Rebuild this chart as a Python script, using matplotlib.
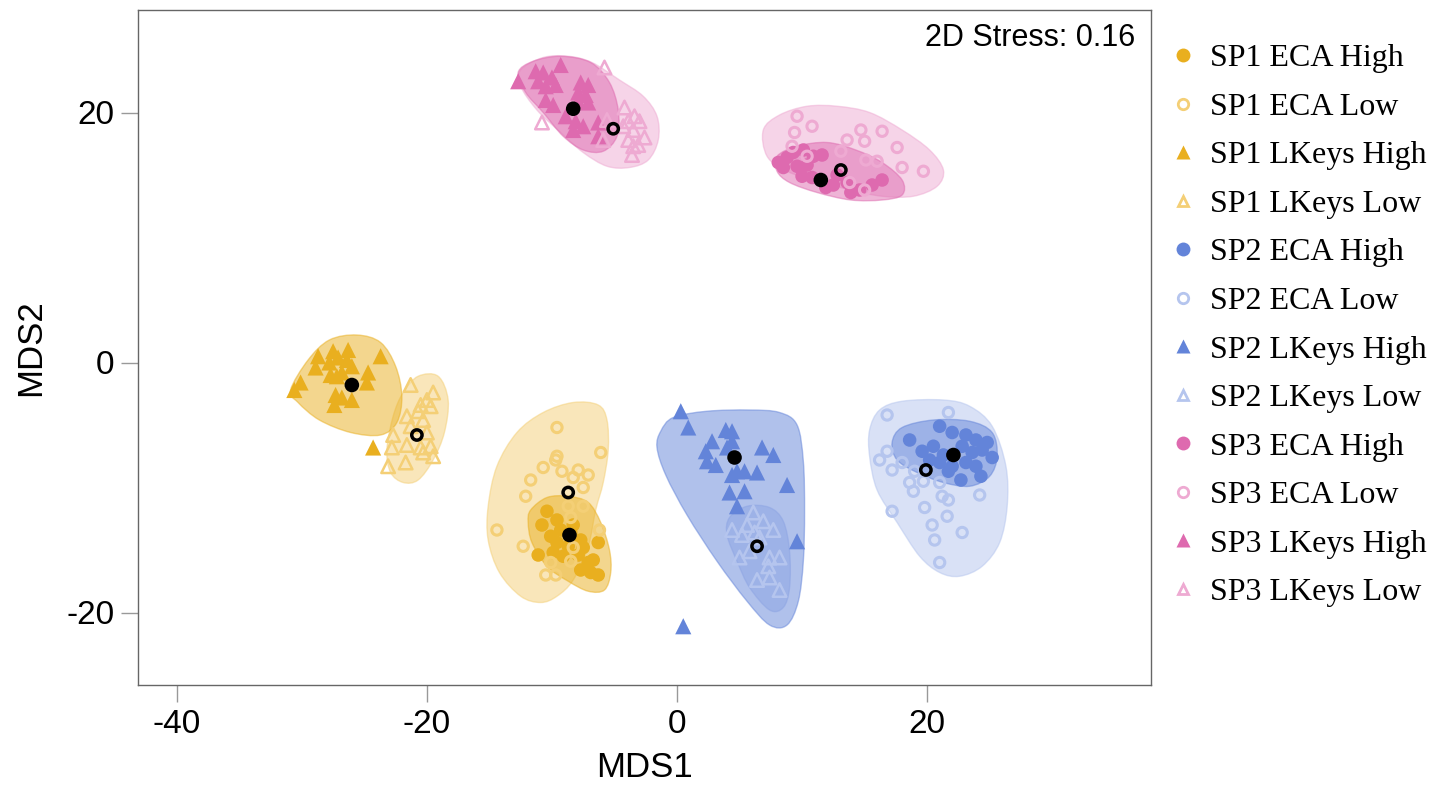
import numpy as np
import matplotlib.pyplot as plt
from matplotlib.path import Path
from matplotlib.patches import PathPatch
from matplotlib.lines import Line2D

plt.rcParams['axes.unicode_minus'] = False

# Couleurs par site (High = foncé, Low = clair)
GOLD, GOLD_LT = '#E9AF1F', '#F4CF76'
BLUE, BLUE_LT = '#6384D9', '#B5C5EE'
PINK, PINK_LT = '#DE6AAF', '#EEAAD2'

# --- Scores NMDS (MDS1, MDS2) par groupe ---
sp1_eca_high_x = [-10.4, -10.8, -9.6, -10.1, -9.3, -8.3, -9.6, -8.7, -7.7, -6.3, -11.1,
                  -9.9, -9.1, -7.9, -7.1, -6.7, -7.7, -6.9, -6.3, -7.5, -8.5]
sp1_eca_high_y = [-11.9, -13.0, -12.6, -13.9, -13.4, -13.0, -14.4, -14.7, -14.2, -14.4, -15.4,
                  -15.2, -15.5, -15.4, -16.0, -15.8, -16.6, -16.8, -17.0, -14.8, -13.6]
sp1_eca_low_x = [-9.6, -6.1, -9.6, -9.7, -10.7, -9.2, -7.9, -7.1, -8.3, -11.7, -7.5, -12.1,
                 -7.5, -8.7, -8.5, -14.4, -6.2, -12.3, -10.1, -8.5, -10.5, -9.7, -8.3]
sp1_eca_low_y = [-5.2, -7.2, -7.5, -7.8, -8.4, -8.7, -8.6, -9.0, -9.2, -9.4, -10.0, -10.7,
                 -11.5, -11.5, -12.4, -13.4, -13.4, -14.7, -16.0, -15.9, -17.0, -17.0, -14.8]
sp1_lk_high_x = [-30.6, -30.1, -28.7, -28.9, -27.5, -27.8, -27.1, -26.3, -26.4, -26.0, -27.7,
                 -27.2, -24.7, -24.8, -23.7, -27.3, -26.8, -26.0, -27.4, -24.3, -26.8]
sp1_lk_high_y = [-2.2, -1.6, 0.5, -0.4, 0.9, 0.0, 0.4, 1.0, 0.2, -0.3, -1.0,
                 -1.1, -0.8, -1.6, 0.5, -2.6, -2.8, -3.0, -3.4, -6.8, -0.8]
sp1_lk_low_x = [-21.3, -19.5, -20.0, -20.5, -19.7, -20.7, -21.6, -20.3, -21.3, -22.7, -20.0,
                -21.6, -22.8, -20.5, -19.7, -19.5, -20.3, -21.7, -23.1]
sp1_lk_low_y = [-1.8, -2.4, -3.0, -3.4, -3.5, -3.9, -4.3, -4.6, -5.1, -5.8, -5.6,
                -6.6, -6.8, -6.8, -6.7, -7.5, -7.2, -8.0, -8.3]

sp2_eca_high_x = [18.6, 21.0, 22.0, 23.1, 23.9, 24.8, 19.6, 20.5, 21.3, 22.8, 23.6,
                  24.4, 25.2, 21.0, 22.0, 23.1, 23.9, 21.7, 22.7, 24.3, 20.2]
sp2_eca_high_y = [-6.2, -5.1, -5.6, -5.8, -6.2, -6.4, -7.1, -6.7, -7.4, -6.7, -7.2,
                  -7.0, -7.6, -8.0, -8.3, -8.0, -8.3, -8.7, -9.4, -9.1, -7.8]
sp2_eca_low_x = [16.8, 21.7, 16.8, 16.2, 17.2, 18.0, 19.0, 18.6, 18.9, 19.7, 21.0,
                 21.2, 21.7, 24.2, 17.2, 19.8, 21.6, 20.4, 22.8, 20.6, 21.0]
sp2_eca_low_y = [-4.2, -4.0, -7.1, -7.8, -8.6, -8.0, -8.7, -9.6, -10.3, -9.5, -9.6,
                 -10.7, -11.0, -10.6, -11.9, -11.6, -12.3, -13.0, -13.6, -14.2, -16.0]
sp2_lk_high_x = [0.3, 0.9, 2.8, 3.9, 4.4, 2.3, 2.4, 3.1, 4.0, 4.4, 6.8,
                 7.7, 4.8, 5.4, 6.4, 4.4, 4.2, 5.4, 4.8, 8.8, 9.6, 0.5]
sp2_lk_high_y = [-3.9, -5.2, -6.3, -5.4, -5.5, -7.1, -7.9, -8.2, -6.8, -6.3, -6.8,
                 -7.4, -8.7, -8.7, -8.8, -9.0, -10.4, -10.3, -11.5, -9.8, -14.3, -21.1]
sp2_lk_low_x = [6.1, 6.9, 5.6, 4.4, 7.7, 6.2, 5.2, 6.6, 5.0, 7.4, 8.2, 7.3, 6.4, 7.4, 8.2, 5.8]
sp2_lk_low_y = [-12.0, -12.7, -13.0, -13.4, -13.4, -13.6, -13.8, -14.0, -15.6, -15.6,
                -15.6, -16.3, -17.4, -17.2, -18.2, -15.1]

sp3_eca_high_x = [8.1, 8.8, 9.3, 10.1, 10.9, 11.6, 8.5, 9.6, 10.4, 10.0, 10.8,
                  11.9, 12.5, 13.6, 14.6, 15.6, 16.4, 13.9, 12.8]
sp3_eca_high_y = [16.0, 16.4, 16.8, 17.0, 16.5, 16.6, 15.6, 15.7, 15.8, 14.9, 14.8,
                  14.0, 14.2, 14.4, 13.8, 14.2, 14.6, 13.6, 15.0]
sp3_eca_low_x = [9.6, 10.8, 9.4, 14.7, 16.4, 13.6, 15.0, 17.6, 9.2, 10.4, 13.1,
                 15.1, 16.0, 18.0, 19.7, 15.0, 13.8]
sp3_eca_low_y = [19.7, 18.9, 18.4, 18.6, 18.5, 17.8, 17.7, 17.2, 17.3, 16.5, 16.9,
                 16.2, 16.1, 15.6, 15.3, 13.8, 14.4]
sp3_lk_high_x = [-12.7, -11.3, -10.7, -9.3, -11.1, -10.0, -9.7, -10.5, -7.7, -7.1, -7.9,
                 -7.3, -10.5, -9.9, -7.9, -7.1, -8.9, -8.1, -7.5, -6.3, -8.3, -6.3]
sp3_lk_high_y = [22.5, 23.3, 23.2, 23.8, 22.5, 22.8, 22.2, 22.1, 22.4, 22.2, 21.6,
                 21.4, 21.0, 20.6, 20.9, 20.8, 19.7, 19.3, 18.9, 19.2, 18.6, 18.1]
sp3_lk_low_x = [-5.8, -10.8, -4.2, -3.4, -3.9, -3.0, -4.3, -3.5, -2.6, -3.9, -3.5,
                -3.6, -3.1, -5.6, -5.9]
sp3_lk_low_y = [23.6, 19.2, 20.4, 19.7, 19.3, 19.3, 18.9, 18.6, 18.0, 17.8, 17.3,
                16.6, 17.4, 19.4, 17.8]

# --- Centroïdes (MDS1, MDS2) ---
centroids = {
    'SP1 ECA High': (-8.6, -13.8), 'SP1 ECA Low': (-8.7, -10.4),
    'SP1 LKeys High': (-26.0, -1.8), 'SP1 LKeys Low': (-20.8, -5.8),
    'SP2 ECA High': (22.1, -7.4), 'SP2 ECA Low': (19.9, -8.6),
    'SP2 LKeys High': (4.6, -7.6), 'SP2 LKeys Low': (6.4, -14.7),
    'SP3 ECA High': (11.5, 14.6), 'SP3 ECA Low': (13.1, 15.4),
    'SP3 LKeys High': (-8.3, 20.3), 'SP3 LKeys Low': (-5.1, 18.7),
}

# --- Contours lissés des enveloppes (sommets de contrôle) ---
hull_sp1_eca_low = [(-8.3, -3.2), (-6.3, -3.4), (-5.6, -4.6), (-5.5, -7.0), (-5.9, -9.6),
                    (-6.5, -11.8), (-7.1, -14.7), (-8.3, -17.4), (-9.6, -18.7), (-10.9, -19.2),
                    (-12.5, -18.7), (-14.2, -16.8), (-15.1, -14.2), (-15.1, -11.5),
                    (-14.4, -8.3), (-12.8, -5.6), (-10.7, -4.0)]
hull_sp1_eca_high = [(-11.7, -11.8), (-10.4, -10.8), (-8.7, -10.7), (-7.1, -11.2), (-6.1, -12.8),
                     (-5.4, -15.0), (-5.3, -16.8), (-5.8, -18.2), (-7.1, -18.3), (-8.7, -17.5),
                     (-10.4, -16.3), (-11.6, -14.4), (-11.9, -12.8)]
hull_sp1_lk_high = [(-30.9, -2.2), (-29.5, 0.2), (-27.8, 1.8), (-25.6, 2.2), (-23.7, 1.6),
                    (-22.5, -0.3), (-22.0, -2.7), (-22.4, -4.8), (-23.7, -5.8), (-26.1, -5.6),
                    (-28.6, -4.6), (-30.3, -3.2)]
hull_sp1_lk_low = [(-20.7, -1.1), (-19.1, -1.1), (-18.3, -3.0), (-18.6, -5.6), (-19.5, -7.8),
                   (-20.7, -9.4), (-21.9, -9.6), (-22.9, -8.8), (-23.2, -7.0), (-22.7, -4.3),
                   (-21.9, -2.4)]
hull_sp2_eca_low = [(15.4, -5.4), (16.2, -3.8), (18.0, -3.1), (21.3, -3.0), (23.4, -3.5),
                    (25.2, -5.1), (26.3, -8.3), (26.4, -11.5), (25.8, -14.4), (24.4, -16.3),
                    (22.6, -17.1), (21.0, -16.8), (19.4, -15.5), (17.6, -12.8), (16.0, -10.2),
                    (15.4, -7.5)]
hull_sp2_eca_high = [(17.2, -6.4), (18.0, -5.2), (20.5, -4.6), (23.4, -4.7), (25.2, -5.6),
                     (25.6, -7.5), (25.0, -9.1), (23.4, -9.9), (21.3, -9.6), (19.2, -8.8),
                     (17.6, -7.8)]
hull_sp2_lk_high = [(-1.3, -5.5), (-0.3, -4.4), (2.4, -3.9), (5.8, -3.8), (8.2, -4.0),
                    (9.6, -5.0), (10.1, -7.9), (10.2, -11.9), (10.1, -15.9), (9.7, -19.1),
                    (8.8, -21.0), (7.4, -21.0), (5.6, -19.1), (3.2, -15.9), (0.8, -12.2),
                    (-0.9, -9.0), (-1.6, -6.8)]
hull_sp2_lk_low = [(4.2, -12.4), (5.6, -11.5), (7.4, -11.6), (8.5, -12.7), (9.0, -15.1),
                   (9.0, -18.0), (8.5, -19.6), (7.4, -19.8), (5.8, -18.0), (4.8, -15.9),
                   (4.0, -13.8)]
hull_sp3_eca_low = [(6.9, 18.6), (8.2, 19.8), (10.4, 20.5), (12.8, 20.5), (15.4, 20.0),
                    (18.0, 18.6), (20.2, 17.0), (21.3, 15.4), (20.8, 14.1), (18.9, 13.3),
                    (16.4, 13.3), (13.9, 13.8), (11.2, 14.5), (8.8, 15.3), (7.2, 16.5)]
hull_sp3_eca_high = [(8.0, 16.5), (9.6, 17.3), (12.0, 17.6), (14.3, 17.0), (16.4, 16.0),
                     (18.0, 14.6), (18.0, 13.4), (16.4, 13.0), (13.9, 13.0), (11.2, 13.6),
                     (9.0, 14.4), (8.0, 15.3)]
hull_sp3_lk_low = [(-12.5, 23.4), (-10.7, 24.4), (-8.7, 24.5), (-6.8, 24.0), (-4.6, 22.6),
                   (-2.7, 21.3), (-1.6, 19.7), (-1.5, 17.8), (-2.3, 16.2), (-3.8, 15.6),
                   (-5.6, 15.7), (-7.5, 16.8), (-9.3, 18.4), (-11.2, 20.2), (-12.5, 22.1)]
hull_sp3_lk_high = [(-12.7, 23.2), (-11.5, 24.1), (-9.3, 24.5), (-6.9, 24.0), (-5.4, 22.4),
                    (-4.7, 20.2), (-4.8, 18.1), (-5.9, 16.9), (-7.5, 17.0), (-9.1, 18.1),
                    (-10.7, 20.0), (-12.1, 21.6)]

# (label, x, y, couleur, marqueur, plein, enveloppe)
groups = [
    ('SP1 ECA High', sp1_eca_high_x, sp1_eca_high_y, GOLD, 'o', True, hull_sp1_eca_high),
    ('SP1 ECA Low', sp1_eca_low_x, sp1_eca_low_y, GOLD_LT, 'o', False, hull_sp1_eca_low),
    ('SP1 LKeys High', sp1_lk_high_x, sp1_lk_high_y, GOLD, '^', True, hull_sp1_lk_high),
    ('SP1 LKeys Low', sp1_lk_low_x, sp1_lk_low_y, GOLD_LT, '^', False, hull_sp1_lk_low),
    ('SP2 ECA High', sp2_eca_high_x, sp2_eca_high_y, BLUE, 'o', True, hull_sp2_eca_high),
    ('SP2 ECA Low', sp2_eca_low_x, sp2_eca_low_y, BLUE_LT, 'o', False, hull_sp2_eca_low),
    ('SP2 LKeys High', sp2_lk_high_x, sp2_lk_high_y, BLUE, '^', True, hull_sp2_lk_high),
    ('SP2 LKeys Low', sp2_lk_low_x, sp2_lk_low_y, BLUE_LT, '^', False, hull_sp2_lk_low),
    ('SP3 ECA High', sp3_eca_high_x, sp3_eca_high_y, PINK, 'o', True, hull_sp3_eca_high),
    ('SP3 ECA Low', sp3_eca_low_x, sp3_eca_low_y, PINK_LT, 'o', False, hull_sp3_eca_low),
    ('SP3 LKeys High', sp3_lk_high_x, sp3_lk_high_y, PINK, '^', True, hull_sp3_lk_high),
    ('SP3 LKeys Low', sp3_lk_low_x, sp3_lk_low_y, PINK_LT, '^', False, hull_sp3_lk_low),
]

stress = 0.16


def smooth_closed_path(vertices):
    """Contour fermé lissé (Catmull-Rom converti en Bézier cubiques)."""
    pts = np.asarray(vertices, dtype=float)
    n = len(pts)
    verts = [pts[0]]
    codes = [Path.MOVETO]
    for i in range(n):
        p0, p1, p2, p3 = pts[i - 1], pts[i], pts[(i + 1) % n], pts[(i + 2) % n]
        verts += [p1 + (p2 - p0) / 6.0, p2 - (p3 - p1) / 6.0, p2]
        codes += [Path.CURVE4] * 3
    verts.append(pts[0])
    codes.append(Path.CLOSEPOLY)
    return Path(verts, codes)


fig = plt.figure(figsize=(14.44, 7.89), dpi=100)
ax = fig.add_axes([138 / 1444, 1 - 685 / 789, (1151 - 138) / 1444, (685 - 10) / 789])

# Enveloppes : d'abord les groupes Low, puis les High par-dessus
for filled_pass in (False, True):
    for label, x, y, color, marker, filled, hull in groups:
        if filled != filled_pass:
            continue
        patch = PathPatch(smooth_closed_path(hull), facecolor=color, alpha=0.5,
                          edgecolor=color, linewidth=1.0, zorder=1)
        ax.add_patch(patch)

# Points
for label, x, y, color, marker, filled, hull in groups:
    if marker == 'o':
        if filled:
            ax.scatter(x, y, s=95, marker='o', color=color, edgecolors='none', zorder=3)
        else:
            ax.scatter(x, y, s=55, marker='o', facecolors='none', edgecolors=color,
                       linewidths=2.2, zorder=3)
    else:
        if filled:
            ax.scatter(x, y, s=135, marker='^', color=color, edgecolors='none', zorder=3)
        else:
            ax.scatter(x, y, s=95, marker='^', facecolors='none', edgecolors=color,
                       linewidths=1.8, zorder=3)

# Centroïdes
for label, (cx, cy) in centroids.items():
    if label.endswith('High'):
        ax.scatter(cx, cy, s=110, color='black', edgecolors='none', zorder=5)
    else:
        ax.scatter(cx, cy, s=55, facecolors='none', edgecolors='black', linewidths=2.5, zorder=5)

ax.set_xlim(-43.1, 37.9)
ax.set_ylim(-25.8, 28.2)
ax.set_xticks([-40, -20, 0, 20])
ax.set_yticks([-20, 0, 20])
for sp in ax.spines.values():
    sp.set_color('#666666')
    sp.set_linewidth(1.0)
ax.tick_params(direction='out', length=12, width=1, color='#999999', pad=5,
               labelsize=24, labelfontfamily='Liberation Sans')
ax.set_xlabel('MDS1', fontsize=25, family='Liberation Sans', labelpad=8)
ax.set_ylabel('MDS2', fontsize=25, family='Liberation Sans', labelpad=14)

ax.text(0.984, 0.958, f'2D Stress: {stress}', transform=ax.transAxes, ha='right',
        va='center', fontsize=22, family='Liberation Sans')

# Légende à droite du graphique
handles = []
for label, x, y, color, marker, filled, hull in groups:
    if filled:
        h = Line2D([], [], linestyle='none', marker=marker, markersize=10,
                   markerfacecolor=color, markeredgecolor='none')
    else:
        h = Line2D([], [], linestyle='none', marker=marker, markersize=7.5,
                   markerfacecolor='none', markeredgecolor=color, markeredgewidth=2)
    handles.append(h)
fig.legend(handles, [g[0] for g in groups], loc='upper left',
           bbox_to_anchor=(1170 / 1444, 1 - 44 / 789), frameon=False,
           prop={'family': 'Liberation Serif', 'size': 23},
           handlelength=0.8, handletextpad=0.45, labelspacing=0.6,
           borderpad=0, borderaxespad=0)

fig.savefig('out.png', dpi=100)
